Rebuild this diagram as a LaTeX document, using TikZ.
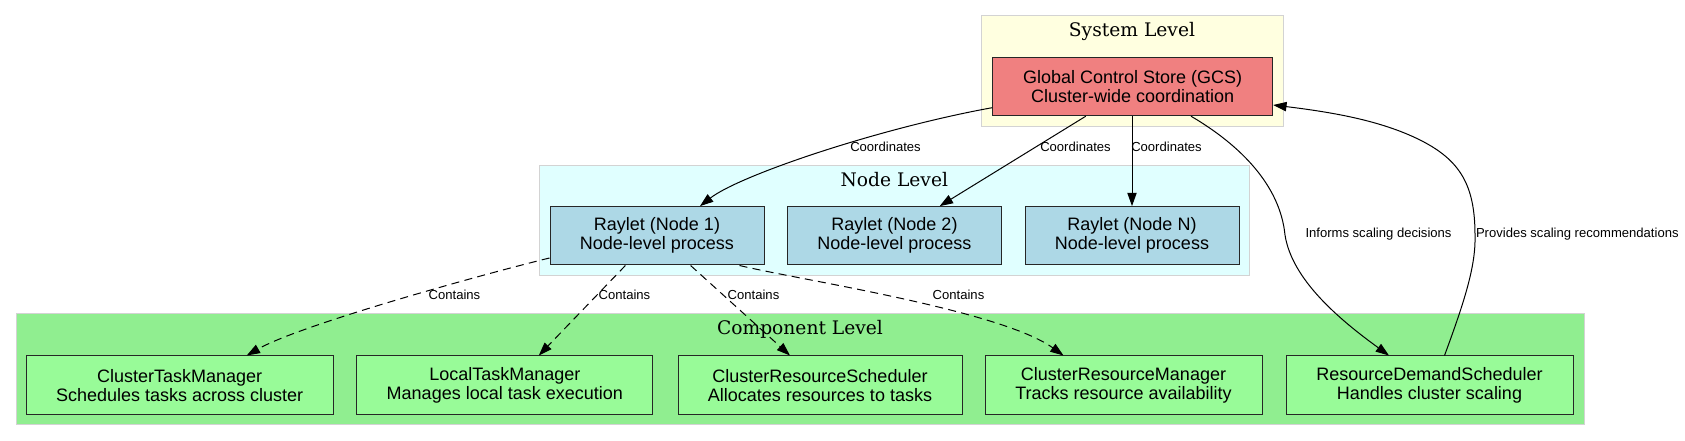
\documentclass[tikz,border=0pt]{standalone}
\usepackage{fontspec}
\setmainfont{Liberation Sans}
\newfontfamily\titlefont{DejaVu Serif}
\usetikzlibrary{arrows.meta,calc}
\definecolor{clborder}{HTML}{D3D3D3}
\definecolor{sysfill}{HTML}{FFFFE0}
\definecolor{nodefill}{HTML}{E0FFFF}
\definecolor{compfill}{HTML}{90EE90}
\definecolor{gcsfill}{HTML}{F08080}
\definecolor{rayfill}{HTML}{ADD8E6}
\definecolor{cmpbox}{HTML}{98FB98}
\begin{document}
\begin{tikzpicture}[x=0.75pt,y=-0.75pt,
  cluster/.style={draw=clborder,line width=0.75pt},
  ctitle/.style={anchor=base,inner sep=0pt,font=\titlefont\fontsize{14}{16}\selectfont},
  box/.style={draw=black!85,line width=0.75pt,minimum height=43.8pt,inner sep=0pt,align=center,font=\fontsize{13.5}{14.3}\selectfont},
  elabel/.style={anchor=base,inner sep=0pt,font=\fontsize{9.8}{11}\selectfont},
  conn/.style={line width=0.75pt,-{Triangle[length=10pt,width=7pt]}},
  dconn/.style={conn,dash pattern=on 6pt off 4pt}
]
\useasboundingbox (0,0) rectangle (1685,441);
\fill[white] (0,0) rectangle (1685,441);
% clusters
\draw[cluster,fill=sysfill] (981,15.7) rectangle (1283,126.7);
\draw[cluster,fill=nodefill] (539,165.7) rectangle (1249.5,276);
\draw[cluster,fill=compfill] (16,314) rectangle (1584,425);
\node[ctitle] (tsys) at (1132,36.2) {System Level};
\node[ctitle] (tnode) at (894.3,186.2) {Node Level};
\node[ctitle] (tcomp) at (800,334.5) {Component Level};
% nodes
\node[box,fill=gcsfill,minimum width=210pt] (gcs) at (1132.7,86.5) {Global Control Store (GCS)\\Cluster-wide coordination};
\node[box,fill=rayfill,minimum width=160.5pt] (r1) at (657,235.8) {Raylet (Node 1)\\Node-level process};
\node[box,fill=rayfill,minimum width=160.5pt] (r2) at (894.5,235.8) {Raylet (Node 2)\\Node-level process};
\node[box,fill=rayfill,minimum width=160.5pt] (rn) at (1132,235.8) {Raylet (Node N)\\Node-level process};
\node[box,fill=cmpbox,minimum width=230.25pt] (ctm) at (179.7,385.2) {ClusterTaskManager\\Schedules tasks across cluster};
\node[box,fill=cmpbox,minimum width=222pt] (ltm) at (504.8,385.2) {LocalTaskManager\\Manages local task execution};
\node[box,fill=cmpbox,minimum width=213pt] (crs) at (820,385.2) {ClusterResourceScheduler\\Allocates resources to tasks};
\node[box,fill=cmpbox,minimum width=207.75pt] (crm) at (1123.5,385.2) {ClusterResourceManager\\Tracks resource availability};
\node[box,fill=cmpbox,minimum width=215.25pt] (rds) at (1429.5,385.2) {ResourceDemandScheduler\\Handles cluster scaling};
% connectors
\draw[conn] ($(gcs.west)+(0,21.2)$) .. controls (880,128) and (740,175) .. ($(r1.north)+(43,0)$);
\draw[conn] ($(gcs.south)+(-46.9,0)$) -- ($(r2.north)+(45.2,0)$);
\draw[conn] (gcs.south -| rn.north) -- (rn.north);
\coordinate (m4) at (1285,235);
\draw[conn] ($(gcs.south)+(58.3,0)$) .. controls (1240,145) and (1280,185) .. (m4) .. controls (1292,280) and (1340,320) .. ($(rds.north)+(-40.5,0)$);
\coordinate (m5a) at (1475,235);
\coordinate (m5b) at (1420,140);
\draw[conn] ($(rds.north)+(15,0)$) .. controls (1465,300) and (1476,265) .. (m5a) .. controls (1475,185) and (1460,160) .. (m5b) .. controls (1380,120) and (1330,112) .. ($(gcs.east)+(0,18.5)$);
\draw[dconn] ($(r1.west)+(0,22.2)$) .. controls (480,275) and (300,325) .. ($(ctm.north)+(67,0)$);
\draw[dconn] ($(r1.south)+(-31.6,0)$) -- ($(ltm.north)+(34,0)$);
\draw[dconn] ($(r1.south)+(33.6,0)$) -- ($(crs.north)+(-30,0)$);
\draw[dconn] ($(r1.south)+(82.5,0)$) .. controls (800,280) and (1000,310) .. ($(crm.north)+(-60,0)$);
% labels
\node[elabel] (lc1) at (885.5,151.5) {Coordinates};
\node[elabel] (lc2) at (1075.5,151.5) {Coordinates};
\node[elabel] (lc3) at (1166.5,151.5) {Coordinates};
\node[elabel] (lk1) at (454.5,300) {Contains};
\node[elabel] (lk2) at (624.5,300) {Contains};
\node[elabel] (lk3) at (753.5,300) {Contains};
\node[elabel] (lk4) at (958.5,300) {Contains};
\node[elabel] (lin) at (1378.5,237.5) {Informs scaling decisions};
\node[elabel] (lpr) at (1577.3,237.5) {Provides scaling recommendations};
\end{tikzpicture}
\end{document}
